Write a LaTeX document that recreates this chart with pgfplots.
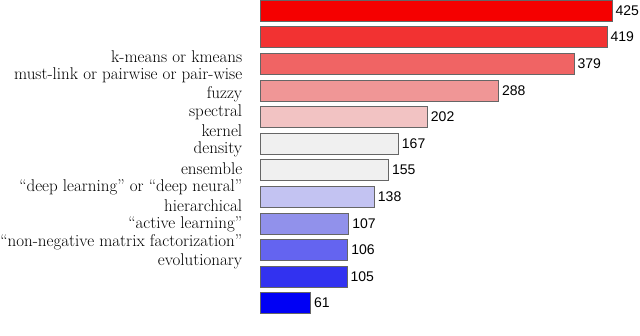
\documentclass[border=0pt]{standalone}
\usepackage{pgfplots}
\pgfplotsset{compat=1.18}
\usepackage{fontspec}
\newfontfamily\libsans{Liberation Sans}
\definecolor{c1}{RGB}{245,0,0}
\definecolor{c2}{RGB}{242,50,50}
\definecolor{c3}{RGB}{240,100,100}
\definecolor{c4}{RGB}{240,150,150}
\definecolor{c5}{RGB}{242,195,195}
\definecolor{c6}{RGB}{240,240,240}
\definecolor{c7}{RGB}{240,240,240}
\definecolor{c8}{RGB}{195,195,242}
\definecolor{c9}{RGB}{145,145,235}
\definecolor{c10}{RGB}{100,100,240}
\definecolor{c11}{RGB}{50,50,240}
\definecolor{c12}{RGB}{0,0,245}
\begin{document}
\begin{tikzpicture}[x=1pt,y=1pt]
\begin{axis}[
  at={(260pt,-316.4pt)}, anchor=south west,
  scale only axis, width=380pt, height=319.2pt,
  xmin=0, xmax=458.8, ymin=-0.5, ymax=11.5, y dir=reverse,
  enlargelimits=false,
  axis line style={draw=none},
  major tick style={draw=none},
  xtick=\empty,
  ytick={1.73,2.43,3.13,3.83,4.53,5.23,5.93,6.63,7.33,8.03,8.73,9.43},
  yticklabels={k-means or kmeans, must-link or pairwise or pair-wise, fuzzy, spectral, kernel, density, ensemble, ``deep learning'' or ``deep neural'', hierarchical, ``active learning'', ``non-negative matrix factorization'', evolutionary},
  yticklabel style={font=\fontsize{17}{19}\selectfont, anchor=east, xshift=-10pt},
  xbar, bar width=0.79, bar shift=0pt,
  clip=false,
  nodes near coords={\pgfmathprintnumber[assume math mode=true]{\pgfplotspointmeta}},
  nodes near coords style={font=\fontsize{14}{14}\selectfont\libsans, xshift=0pt},
  every axis plot/.append style={draw=black!60, line width=0.6pt},
]
\addplot[fill=c1] coordinates {(425,0)};
\addplot[fill=c2] coordinates {(419,1)};
\addplot[fill=c3] coordinates {(379,2)};
\addplot[fill=c4] coordinates {(288,3)};
\addplot[fill=c5] coordinates {(202,4)};
\addplot[fill=c6] coordinates {(167,5)};
\addplot[fill=c7] coordinates {(155,6)};
\addplot[fill=c8] coordinates {(138,7)};
\addplot[fill=c9] coordinates {(107,8)};
\addplot[fill=c10] coordinates {(106,9)};
\addplot[fill=c11] coordinates {(105,10)};
\addplot[fill=c12] coordinates {(61,11)};
\end{axis}
\pgfresetboundingbox
\useasboundingbox (0,0) rectangle (640pt,-335pt);
\end{tikzpicture}
\end{document}
